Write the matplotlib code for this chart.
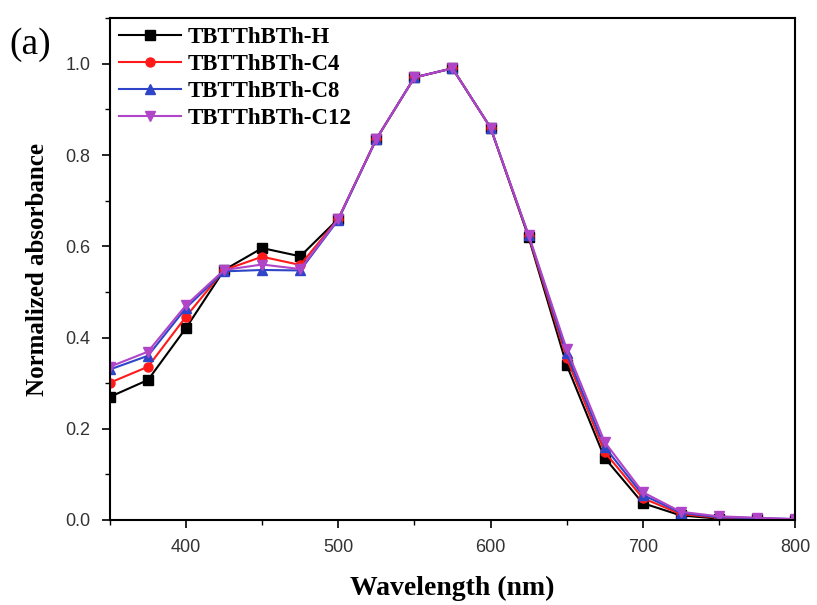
"""Normalized UV-vis absorbance of the four TBTThBTh derivatives."""
import matplotlib
matplotlib.use("Agg")
import matplotlib.pyplot as plt
from matplotlib.ticker import MultipleLocator

wavelength = [350, 375, 400, 425, 450, 475, 500, 525, 550, 575,
              600, 625, 650, 675, 700, 725, 750, 775, 800]

abs_h = [0.270, 0.307, 0.421, 0.548, 0.596, 0.578, 0.660, 0.835, 0.970, 0.990,
         0.860, 0.620, 0.340, 0.136, 0.037, 0.010, 0.003, 0.002, 0.000]
abs_c4 = [0.301, 0.336, 0.446, 0.548, 0.577, 0.559, 0.660, 0.835, 0.970, 0.990,
          0.860, 0.622, 0.355, 0.149, 0.048, 0.013, 0.005, 0.003, 0.001]
abs_c8 = [0.330, 0.360, 0.465, 0.545, 0.548, 0.547, 0.658, 0.835, 0.970, 0.990,
          0.860, 0.624, 0.365, 0.160, 0.055, 0.016, 0.006, 0.004, 0.002]
abs_c12 = [0.336, 0.369, 0.471, 0.548, 0.560, 0.550, 0.660, 0.835, 0.970, 0.990,
           0.860, 0.625, 0.375, 0.171, 0.061, 0.018, 0.008, 0.005, 0.002]

series = [
    ("TBTThBTh-H", abs_h, "#000000", "s"),
    ("TBTThBTh-C4", abs_c4, "#ff1a1a", "o"),
    ("TBTThBTh-C8", abs_c8, "#2f45c8", "^"),
    ("TBTThBTh-C12", abs_c12, "#b045c8", "v"),
]

fig = plt.figure(figsize=(8.17, 6.05), dpi=100)
ax = fig.add_axes([0.1346, 0.1405, 0.8384, 0.8295])

for label, values, color, marker in series:
    ax.plot(wavelength, values, color=color, marker=marker, markersize=6.5,
            linewidth=1.5, label=label)

ax.set_xlim(350, 800)
ax.set_ylim(0, 1.1)
ax.xaxis.set_major_locator(MultipleLocator(100))
ax.xaxis.set_minor_locator(MultipleLocator(50))
ax.yaxis.set_major_locator(MultipleLocator(0.2))
ax.yaxis.set_minor_locator(MultipleLocator(0.1))
ax.tick_params(which="major", direction="out", length=6, width=1.2,
               labelsize=13, labelcolor="#333333", pad=8)
ax.tick_params(which="minor", direction="out", length=3.5, width=1.0)
for lbl in ax.get_xticklabels() + ax.get_yticklabels():
    lbl.set_fontfamily(["Liberation Sans", "DejaVu Sans"])
for spine in ax.spines.values():
    spine.set_linewidth(1.5)

serif = ["Liberation Serif", "DejaVu Serif"]
ax.set_xlabel("Wavelength (nm)", fontfamily=serif, fontweight="bold",
              fontsize=20, labelpad=14)
ax.set_ylabel("Normalized absorbance", fontfamily=serif, fontweight="bold",
              fontsize=18, labelpad=12)

ax.legend(loc="upper left", frameon=False, handlelength=2.7,
          borderaxespad=0.0, labelspacing=0.26, handletextpad=0.3,
          prop={"family": serif, "weight": "bold", "size": 16.5})

fig.text(0.012, 0.926, "(a)", fontfamily=serif, fontsize=27, va="center")

fig.savefig("out.png", dpi=100)
plt.close(fig)
